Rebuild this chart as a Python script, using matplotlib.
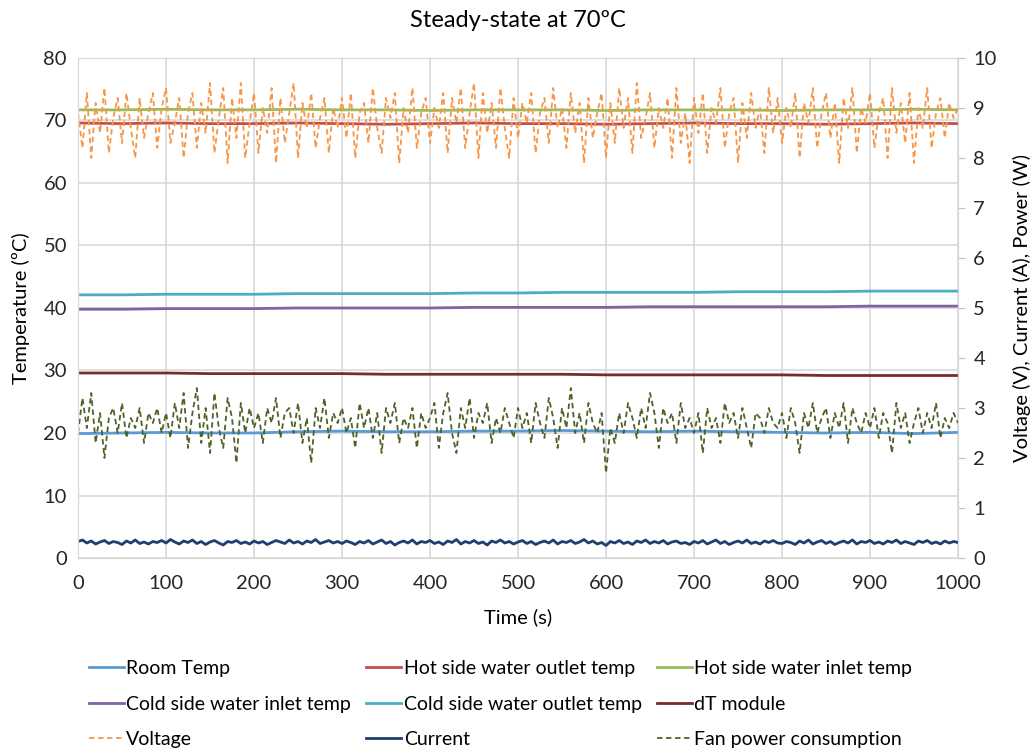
import matplotlib.pyplot as plt
import numpy as np

# Time axis
t_fast = np.arange(0, 1001, 5)      # 201 samples for noisy series
t_slow = np.arange(0, 1001, 50)     # 21 samples for slow series

# Temperatures (ºC), left axis
room_temp = [19.9, 20.0, 20.1, 20.0, 20.0, 20.2, 20.3, 20.2, 20.2, 20.3, 20.3,
             20.4, 20.3, 20.2, 20.3, 20.2, 20.1, 20.0, 20.1, 19.9, 20.1]
hot_outlet = [69.6, 69.5, 69.6, 69.5, 69.5, 69.6, 69.5, 69.4, 69.5, 69.6, 69.5,
              69.5, 69.4, 69.5, 69.6, 69.5, 69.5, 69.4, 69.5, 69.6, 69.5]
hot_inlet = [71.7, 71.7, 71.8, 71.7, 71.7, 71.8, 71.7, 71.7, 71.6, 71.7, 71.7,
             71.7, 71.6, 71.7, 71.7, 71.7, 71.6, 71.7, 71.7, 71.8, 71.7]
cold_inlet = [39.8, 39.8, 39.9, 39.9, 39.9, 40.0, 40.0, 40.0, 40.0, 40.1, 40.1,
              40.1, 40.1, 40.2, 40.2, 40.2, 40.2, 40.2, 40.3, 40.3, 40.3]
cold_outlet = [42.1, 42.1, 42.2, 42.2, 42.2, 42.3, 42.3, 42.3, 42.3, 42.4, 42.4,
               42.5, 42.5, 42.5, 42.5, 42.6, 42.6, 42.6, 42.7, 42.7, 42.7]
dt_module = [29.6, 29.6, 29.6, 29.5, 29.5, 29.5, 29.5, 29.4, 29.4, 29.4, 29.4,
             29.4, 29.3, 29.3, 29.3, 29.3, 29.3, 29.2, 29.2, 29.2, 29.2]

# Electrical values, right axis
voltage = [
    8.9, 8.2, 9.3, 8.0, 9.1, 8.5, 9.4, 8.1, 8.8, 9.2, 8.3, 9.3, 8.6, 8.0, 9.2, 8.4, 8.9, 9.3, 8.2, 9.0,
    9.4, 8.3, 8.7, 9.2, 8.0, 8.9, 9.3, 8.2, 9.1, 8.5, 9.5, 8.1, 8.8, 9.4, 7.9, 9.2, 8.4, 9.5, 8.0, 8.7,
    9.3, 8.1, 9.0, 8.5, 9.4, 7.9, 9.2, 8.3, 8.9, 9.5, 8.0, 9.1, 8.6, 9.3, 8.2, 8.8, 9.2, 8.1, 9.0, 8.6,
    9.2, 8.4, 9.3, 8.0, 8.9, 9.1, 8.3, 9.4, 8.6, 8.1, 9.2, 8.8, 9.3, 7.9, 9.0, 8.5, 9.4, 8.2, 8.9, 9.2,
    8.3, 9.0, 8.6, 9.3, 8.1, 9.2, 8.7, 9.4, 8.2, 8.9, 9.5, 8.0, 9.3, 8.5, 9.1, 8.2, 9.4, 8.6, 8.0, 9.2,
    8.4, 9.1, 8.7, 9.3, 8.1, 8.9, 9.2, 8.3, 9.4, 8.6, 9.0, 8.2, 9.3, 8.5, 9.1, 7.9, 9.2, 8.4, 8.9, 9.3,
    8.0, 9.1, 8.3, 9.4, 8.6, 9.2, 8.1, 9.5, 8.4, 8.8, 9.3, 8.2, 9.0, 8.6, 9.2, 8.0, 9.4, 8.3, 8.9, 7.9,
    9.2, 8.5, 9.3, 8.1, 9.0, 8.7, 9.4, 8.2, 8.9, 9.2, 7.9, 9.1, 8.4, 9.3, 8.6, 9.0, 8.1, 9.4, 8.5, 9.2,
    8.3, 9.0, 8.6, 9.3, 8.0, 9.1, 8.7, 9.4, 8.2, 8.9, 9.3, 8.4, 9.1, 7.9, 9.2, 8.6, 9.4, 8.1, 9.0, 8.7,
    9.3, 8.2, 8.9, 9.2, 8.0, 9.4, 8.5, 9.1, 8.3, 9.3, 7.9, 9.0, 8.6, 9.4, 8.2, 8.9, 9.2, 8.4, 9.1, 8.8,
    9.0]
current = [
    0.33, 0.36, 0.30, 0.34, 0.28, 0.32, 0.35, 0.29, 0.33, 0.31, 0.27, 0.34, 0.30, 0.36, 0.29, 0.32, 0.28, 0.33, 0.31, 0.35,
    0.30, 0.37, 0.32, 0.28, 0.34, 0.31, 0.36, 0.29, 0.33, 0.27, 0.32, 0.35, 0.30, 0.26, 0.33, 0.31, 0.35, 0.29, 0.32, 0.28,
    0.34, 0.30, 0.33, 0.27, 0.31, 0.35, 0.32, 0.29, 0.36, 0.30, 0.33, 0.28, 0.34, 0.31, 0.37, 0.29, 0.32, 0.35, 0.30, 0.33,
    0.29, 0.34, 0.31, 0.27, 0.33, 0.30, 0.35, 0.28, 0.32, 0.36, 0.29, 0.33, 0.26, 0.31, 0.34, 0.30, 0.36, 0.28, 0.33, 0.31,
    0.35, 0.29, 0.32, 0.27, 0.34, 0.31, 0.37, 0.28, 0.33, 0.30, 0.35, 0.29, 0.32, 0.26, 0.34, 0.31, 0.36, 0.30, 0.33, 0.28,
    0.32, 0.35, 0.29, 0.33, 0.27, 0.31, 0.34, 0.30, 0.36, 0.28, 0.33, 0.31, 0.35, 0.29, 0.32, 0.37, 0.30, 0.34, 0.28, 0.31,
    0.25, 0.33, 0.30, 0.35, 0.29, 0.32, 0.27, 0.34, 0.31, 0.36, 0.29, 0.33, 0.30, 0.35, 0.28, 0.32, 0.34, 0.29, 0.31, 0.27,
    0.33, 0.30, 0.35, 0.28, 0.32, 0.36, 0.29, 0.33, 0.27, 0.31, 0.34, 0.30, 0.36, 0.29, 0.32, 0.28, 0.34, 0.31, 0.35, 0.30,
    0.29, 0.33, 0.31, 0.27, 0.34, 0.30, 0.36, 0.28, 0.32, 0.35, 0.29, 0.33, 0.27, 0.31, 0.34, 0.30, 0.36, 0.28, 0.33, 0.31,
    0.35, 0.29, 0.32, 0.28, 0.34, 0.31, 0.36, 0.29, 0.33, 0.30, 0.27, 0.34, 0.31, 0.35, 0.29, 0.32, 0.28, 0.34, 0.30, 0.33,
    0.31]
fan_power = [
    2.5, 3.2, 2.6, 3.3, 2.3, 2.9, 2.0, 2.8, 3.0, 2.5, 3.1, 2.4, 2.8, 2.6, 3.0, 2.3, 2.9, 2.7, 3.0, 2.5,
    2.9, 2.4, 3.1, 2.6, 3.3, 2.2, 2.9, 3.4, 2.3, 3.0, 2.1, 3.3, 2.6, 2.2, 3.2, 2.8, 1.9, 3.1, 2.5, 3.0,
    2.6, 2.9, 2.3, 3.0, 2.7, 3.2, 2.4, 2.9, 3.0, 2.5, 3.1, 2.3, 2.8, 1.9, 3.0, 2.6, 3.2, 2.4, 2.9, 2.7,
    3.0, 2.5, 2.8, 2.2, 3.1, 2.6, 3.0, 2.4, 2.9, 2.1, 3.0, 2.7, 3.1, 2.3, 2.8, 2.6, 3.0, 2.2, 2.9, 2.6,
    2.8, 3.1, 2.2, 2.9, 3.3, 2.5, 2.1, 3.0, 2.6, 3.2, 2.4, 2.9, 2.7, 3.1, 2.3, 2.8, 2.5, 3.0, 2.7, 2.4,
    3.0, 2.6, 2.9, 2.3, 3.1, 2.7, 2.4, 3.2, 2.8, 2.2, 3.0, 2.6, 3.4, 2.5, 2.9, 2.3, 3.1, 2.7, 2.5, 2.9,
    1.7, 2.6, 2.3, 2.9, 2.5, 3.1, 2.8, 2.4, 3.0, 2.6, 3.3, 2.9, 2.2, 3.0, 2.7, 2.9, 2.3, 3.1, 2.6, 2.8,
    2.5, 2.9, 2.1, 3.0, 2.6, 2.8, 2.3, 3.1, 2.7, 2.9, 2.4, 3.0, 2.6, 2.2, 2.9, 2.8, 2.5, 3.0, 2.7, 2.6,
    2.9, 2.4, 3.0, 2.7, 2.1, 2.9, 2.6, 3.1, 2.5, 2.8, 3.0, 2.4, 2.9, 2.6, 3.1, 2.3, 3.0, 2.7, 2.5, 2.9,
    2.6, 3.0, 2.4, 2.9, 2.7, 2.1, 3.1, 2.6, 2.9, 2.3, 2.7, 3.0, 2.5, 2.9, 2.6, 3.1, 2.4, 2.8, 2.6, 2.9,
    2.7]

plt.rcParams['font.family'] = ['Lato', 'DejaVu Sans']
plt.rcParams['font.size'] = 14.5

fig = plt.figure(figsize=(10.35, 7.56), dpi=100)
ax = fig.add_axes([0.0754, 0.2619, 0.8502, 0.6614])
ax2 = ax.twinx()

# Temperature lines
l_room, = ax.plot(t_slow, room_temp, color='#5b9bd5', lw=2, label='Room Temp')
l_hout, = ax.plot(t_slow, hot_outlet, color='#c0504d', lw=2, label='Hot side water outlet temp')
l_hin, = ax.plot(t_slow, hot_inlet, color='#9bbb59', lw=2, label='Hot side water inlet temp')
l_cin, = ax.plot(t_slow, cold_inlet, color='#8064a2', lw=2, label='Cold side water inlet temp')
l_cout, = ax.plot(t_slow, cold_outlet, color='#4bacc6', lw=2, label='Cold side water outlet temp')
l_dt, = ax.plot(t_slow, dt_module, color='#772c2a', lw=2, label='dT module')

# Electrical lines on secondary axis
l_v, = ax2.plot(t_fast, voltage, color='#f79646', lw=1.3, ls=(0, (3, 2)), label='Voltage')
l_i, = ax2.plot(t_fast, current, color='#1f3f6e', lw=2, label='Current')
l_f, = ax2.plot(t_fast, fan_power, color='#4f6228', lw=1.3, ls=(0, (3, 2)), label='Fan power consumption')

ax.set_xlim(0, 1000)
ax.set_ylim(0, 80)
ax2.set_ylim(0, 10)
ax.set_xticks(range(0, 1001, 100))
ax.set_yticks(range(0, 81, 10))
ax2.set_yticks(range(0, 11, 1))

ax.grid(True, color='#d9d9d9', lw=1.2)
ax.set_axisbelow(True)
for a in (ax, ax2):
    for s in a.spines.values():
        s.set_color('#d9d9d9')
ax.tick_params(length=0, colors='#262626', labelsize=14.5)
ax.tick_params(axis='x', pad=12)
ax.tick_params(axis='y', pad=8)
ax2.tick_params(axis='y', length=5, color='#bfbfbf', labelcolor='#262626', labelsize=14.5, pad=6)

ax.set_title('Steady-state at 70ºC', fontsize=17, pad=22)
ax.set_xlabel('Time (s)', fontsize=14.5, labelpad=12)
ax.set_ylabel('Temperature (ºC)', fontsize=14.5, labelpad=10)
ax2.set_ylabel('Voltage (V), Current (A), Power (W)', fontsize=14.5, labelpad=12)

# Legend laid out row by row like the original (matplotlib fills column-wise)
handles = [l_room, l_cin, l_v, l_hout, l_cout, l_i, l_hin, l_dt, l_f]
fig.legend(handles=handles, labels=[h.get_label() for h in handles],
           ncol=3, loc='lower left', bbox_to_anchor=(0.078, 0.0), frameon=False,
           handlelength=1.8, handletextpad=0.15, columnspacing=0.75, labelspacing=0.95,
           borderaxespad=0.0, fontsize=14)

fig.savefig('out.png', dpi=100)
